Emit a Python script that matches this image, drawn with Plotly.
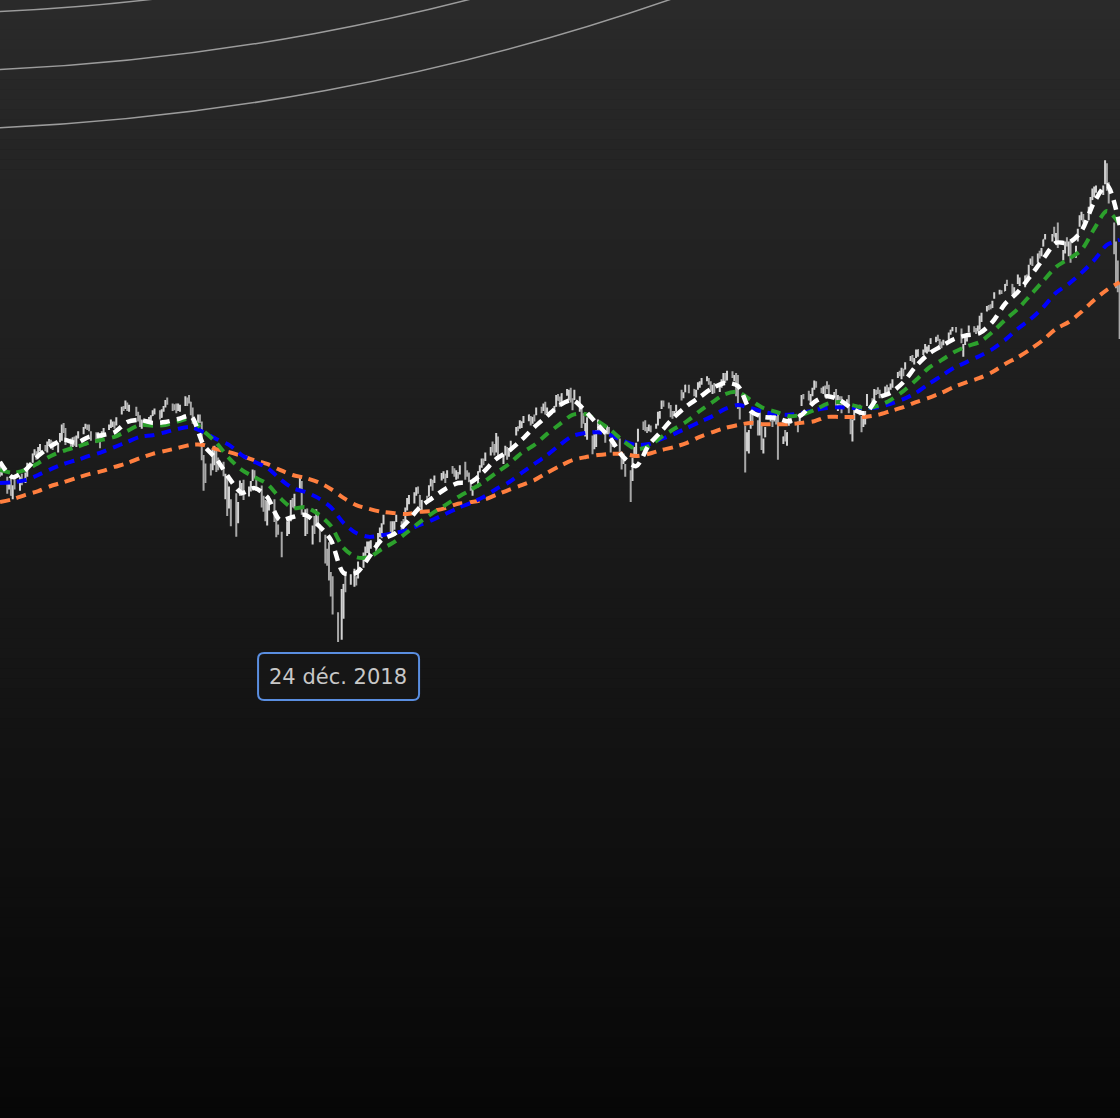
import pandas as pd
import plotly.graph_objects as go

# ---------------- data ----------------
HOLIDAYS = ["2018-07-04", "2018-09-03", "2018-11-22", "2018-12-05", "2018-12-25",
            "2019-01-01", "2019-01-21", "2019-02-18", "2019-04-19", "2019-05-27",
            "2019-07-04", "2019-09-02", "2019-11-28", "2019-12-25", "2020-01-01",
            "2020-01-20", "2020-02-17"]
FIRST_DAY = "2018-06-21"
LAST_DAY = "2020-02-27"

OPEN = [
 2770,2755,2740,2722,2730,2700,2725,
 2720,2745,2738,2752,2780,2800,2795,2795,2812,2815,2808,2824,2828,2818,2810,2830,2835,2858,2855,2830,2818,
 2832,2818,2840,2850,2862,2864,2862,2850,2842,2830,2838,2835,2846,2860,2865,2866,2868,2868,2895,2908,2908,2916,2902,
 2905,2896,2886,2865,2872,2868,2884,2890,2900,2898,2886,2902,2912,2926,2915,2912,2908,2905,2904,
 2920,2924,2930,2920,2902,2880,2882,2872,2776,2770,2764,2765,2808,2800,2778,2775,2722,2738,2676,2668,2682,2640,2706,
 2712,2728,2705,2715,2745,2756,2740,2720,2682,2680,2650,2675,2688,2630,2615,2605,2610,2625,2650,2685,2682,
 2725,2730,2630,2658,2612,2640,2635,2645,2622,2590,2560,2555,2505,2482,2420,2370,2455,2492,2500,
 2490,2505,2510,2542,2565,2575,2570,2585,2580,2585,2608,2605,2640,2632,2625,2630,2645,2632,2632,2640,2670,
 2692,2690,2705,2716,2700,2675,2692,2700,2726,2728,2735,2742,2748,2750,2745,2765,2755,2748,2752,
 2758,2775,2756,2752,2732,2705,2722,2760,2770,2780,2785,2800,2815,2810,2805,2835,2785,2800,2808,2798,2815,
 2845,2860,2864,2866,2876,2884,2886,2875,2888,2895,2904,2906,2912,2902,2900,2912,2935,2928,2925,2942,2938,
 2948,2922,2928,2902,2912,2880,2865,2862,2835,2815,2818,2852,2858,2842,2850,2852,2835,2825,2828,2785,2785,2765,
 2750,2740,2800,2808,2830,2865,2872,2858,2858,2860,2862,2870,2890,2912,2915,2914,2912,2895,2892,2902,
 2940,2936,2946,2958,2950,2938,2955,2962,2965,2976,2975,2966,2945,2962,2950,2960,2966,2985,2975,2990,2975,2982,
 2952,2905,2860,2830,2830,2862,2888,2872,2848,2865,2818,2840,2880,2882,2880,2892,2880,2830,2852,2825,2868,2892,
 2870,2875,2915,2935,2940,2928,2940,2960,2962,2948,2948,2955,2960,2958,2935,2948,2915,2932,2928,2915,
 2930,2888,2855,2880,2902,2885,2868,2875,2915,2922,2928,2945,2950,2946,2945,2958,2944,2958,2958,2980,2988,2985,2998,
 3000,3025,3026,3020,3030,3035,3038,3042,3040,3048,3062,3070,3075,3068,3058,3060,3070,3084,3092,3094,
 3092,3040,3060,3074,3088,3095,3090,3092,3098,3122,3138,3145,3146,3145,3170,3180,3182,3184,3204,3198,3178,
 3205,3200,3195,3218,3215,3250,3262,3252,3268,3268,3290,3310,3308,3320,3310,3325,3260,3278,3300,3280,3298,
 3265,3305,3345,3358,3360,3352,3390,3400,3412,3422,3420,3440,3455,3435,3320,3292,3210,3150,
]
HIGH = [
 2775,2765,2745,2735,2748,2725,2745,
 2745,2752,2755,2778,2800,2810,2805,2815,2822,2820,2828,2834,2832,2828,2825,2848,2868,2872,2860,2835,2838,
 2840,2842,2852,2862,2870,2868,2868,2852,2850,2850,2840,2852,2860,2868,2880,2875,2875,2885,2910,2912,2925,2920,2915,
 2910,2898,2890,2880,2880,2886,2890,2902,2906,2902,2904,2912,2926,2932,2918,2916,2918,2918,2915,
 2935,2932,2938,2922,2908,2892,2892,2875,2796,2776,2776,2812,2818,2806,2790,2780,2752,2745,2722,2692,2706,2685,2736,
 2730,2738,2722,2735,2762,2760,2745,2724,2700,2690,2688,2698,2692,2648,2632,2615,2640,2648,2690,2695,2705,
 2745,2735,2668,2670,2630,2652,2668,2660,2632,2608,2575,2590,2520,2510,2425,2480,2492,2515,2515,
 2528,2510,2545,2566,2580,2592,2592,2595,2590,2612,2625,2635,2655,2640,2640,2640,2655,2640,2645,2672,2695,
 2702,2708,2720,2722,2702,2690,2700,2725,2740,2738,2748,2754,2758,2752,2760,2770,2765,2760,2756,
 2772,2780,2760,2755,2735,2722,2758,2772,2788,2788,2802,2815,2828,2822,2848,2840,2798,2818,2815,2812,2830,
 2862,2864,2878,2876,2888,2892,2888,2886,2892,2908,2910,2918,2922,2908,2912,2938,2940,2934,2942,2952,2950,
 2955,2930,2950,2935,2915,2895,2872,2885,2842,2845,2855,2880,2875,2850,2865,2862,2836,2835,2835,2792,2800,2775,
 2760,2790,2815,2825,2858,2875,2878,2862,2868,2866,2870,2898,2900,2925,2925,2920,2914,2900,2900,2915,
 2950,2944,2962,2962,2952,2950,2968,2970,2978,2982,2978,2970,2962,2966,2960,2975,2990,2990,2995,2994,2985,2990,
 2985,2910,2865,2850,2855,2900,2895,2878,2902,2868,2835,2862,2892,2885,2892,2900,2895,2840,2855,2850,2888,2895,
 2875,2895,2938,2940,2948,2940,2955,2972,2970,2955,2958,2960,2970,2962,2945,2952,2938,2935,2935,2928,
 2938,2890,2880,2912,2915,2888,2882,2900,2940,2930,2952,2950,2956,2950,2958,2962,2956,2965,2975,2992,2995,3002,3000,
 3015,3030,3032,3025,3045,3045,3045,3058,3052,3056,3072,3075,3080,3070,3064,3068,3085,3092,3098,3098,
 3095,3058,3075,3080,3102,3100,3096,3102,3125,3132,3148,3150,3152,3160,3180,3186,3185,3200,3210,3200,3192,
 3222,3215,3220,3222,3245,3260,3265,3272,3278,3285,3305,3318,3318,3335,3320,3345,3280,3300,3310,3300,3305,
 3290,3330,3362,3370,3365,3382,3405,3425,3430,3432,3432,3492,3485,3440,3345,3300,3255,3200,
]
LOW = [
 2745,2748,2705,2715,2700,2692,2715,
 2712,2725,2730,2745,2778,2795,2785,2792,2805,2805,2802,2818,2812,2808,2802,2826,2830,2848,2820,2808,2815,
 2818,2815,2835,2845,2858,2855,2852,2830,2825,2828,2812,2832,2840,2855,2860,2862,2858,2866,2892,2900,2905,2900,2898,
 2888,2875,2862,2858,2865,2862,2874,2888,2892,2880,2884,2898,2908,2915,2900,2902,2895,2900,2898,
 2912,2912,2918,2890,2870,2862,2872,2784,2712,2730,2748,2760,2772,2756,2760,2746,2692,2652,2670,2628,2603,2635,2700,
 2700,2690,2698,2710,2735,2740,2712,2672,2662,2640,2630,2665,2638,2602,2608,2555,2605,2610,2640,2672,2670,
 2712,2655,2605,2610,2585,2610,2628,2630,2590,2540,2535,2500,2462,2420,2355,2360,2410,2472,2490,
 2485,2488,2505,2530,2550,2565,2562,2575,2568,2582,2602,2600,2632,2605,2610,2620,2638,2615,2622,2635,2665,
 2680,2682,2700,2705,2672,2665,2682,2698,2722,2712,2730,2736,2740,2730,2742,2752,2745,2738,2740,
 2750,2738,2745,2732,2712,2700,2720,2755,2766,2772,2782,2795,2802,2795,2802,2785,2775,2795,2785,2792,2810,
 2842,2852,2858,2860,2872,2876,2866,2870,2875,2890,2895,2900,2892,2895,2896,2910,2924,2910,2915,2936,2925,
 2920,2902,2926,2898,2860,2870,2840,2832,2798,2810,2815,2850,2850,2825,2845,2845,2802,2815,2795,2762,2775,2745,
 2685,2735,2790,2798,2828,2855,2852,2848,2852,2850,2858,2866,2882,2905,2910,2906,2885,2882,2888,2898,
 2925,2930,2944,2942,2935,2932,2950,2955,2962,2970,2962,2948,2940,2942,2945,2955,2965,2966,2972,2978,2970,2935,
 2905,2880,2755,2805,2800,2858,2865,2842,2842,2808,2800,2838,2875,2862,2875,2868,2785,2822,2828,2818,2865,2870,
 2850,2872,2912,2928,2925,2918,2935,2950,2955,2942,2940,2932,2952,2935,2930,2905,2900,2912,2895,2912,
 2895,2845,2828,2878,2890,2850,2862,2868,2912,2915,2926,2938,2940,2930,2942,2945,2940,2950,2955,2978,2982,2975,2982,
 2998,3018,3015,3010,3025,3028,3032,3038,3036,3040,3058,3062,3065,3050,3048,3055,3068,3080,3088,3085,
 3060,3028,3056,3064,3085,3086,3082,3088,3092,3110,3135,3138,3140,3143,3165,3175,3176,3183,3195,3175,3172,
 3200,3195,3192,3208,3212,3245,3242,3250,3260,3265,3288,3305,3300,3312,3295,3285,3255,3272,3288,3265,3250,
 3262,3300,3335,3350,3345,3350,3382,3398,3405,3415,3410,3435,3420,3390,3270,3190,3180,3070,
]
CLOSE = [
 2750,2756,2718,2724,2702,2718,2720,
 2740,2730,2752,2775,2798,2806,2790,2812,2816,2813,2824,2830,2818,2816,2821,2835,2862,2853,2832,2815,2830,
 2825,2840,2850,2860,2865,2862,2858,2840,2828,2846,2826,2848,2857,2864,2870,2869,2864,2882,2905,2906,2920,2908,2908,
 2898,2885,2870,2866,2874,2884,2886,2898,2900,2884,2900,2906,2922,2920,2910,2908,2898,2908,2910,
 2924,2922,2926,2902,2886,2884,2880,2786,2728,2767,2750,2809,2809,2769,2768,2756,2740,2656,2706,2659,2641,2682,2712,
 2722,2705,2718,2730,2758,2748,2725,2676,2672,2656,2684,2690,2644,2605,2612,2598,2635,2640,2688,2680,2700,
 2738,2660,2662,2615,2622,2622,2640,2638,2595,2550,2550,2512,2478,2432,2362,2472,2490,2488,2508,
 2515,2495,2540,2552,2572,2580,2590,2590,2582,2606,2612,2628,2645,2618,2630,2634,2648,2630,2628,2668,2690,
 2692,2705,2716,2710,2686,2688,2690,2722,2730,2725,2745,2748,2752,2740,2756,2758,2754,2753,2745,
 2768,2755,2752,2736,2720,2718,2756,2764,2782,2780,2798,2810,2808,2806,2842,2788,2790,2806,2796,2806,2826,
 2860,2858,2866,2872,2886,2890,2872,2884,2882,2904,2902,2906,2898,2905,2910,2935,2926,2924,2940,2944,2946,
 2924,2916,2946,2932,2882,2878,2868,2878,2808,2832,2848,2872,2856,2838,2860,2852,2818,2822,2798,2780,2785,2748,
 2722,2788,2808,2822,2850,2862,2860,2855,2864,2860,2862,2888,2896,2918,2914,2910,2888,2886,2896,2912,
 2935,2942,2960,2955,2945,2948,2958,2964,2975,2976,2966,2950,2958,2944,2955,2972,2986,2970,2992,2986,2980,2948,
 2915,2895,2810,2845,2850,2898,2880,2850,2888,2812,2822,2858,2885,2865,2888,2885,2810,2838,2832,2848,2882,2885,
 2862,2892,2932,2934,2935,2936,2952,2960,2958,2948,2956,2955,2954,2940,2940,2912,2932,2925,2910,2924,
 2898,2852,2875,2908,2895,2852,2876,2896,2925,2922,2948,2942,2948,2938,2955,2946,2954,2960,2972,2988,2986,2998,2990,
 3012,3025,3020,3022,3038,3044,3040,3046,3048,3054,3070,3072,3070,3060,3056,3064,3082,3090,3096,3088,
 3066,3052,3070,3076,3098,3090,3088,3098,3120,3122,3142,3144,3142,3158,3174,3180,3180,3198,3198,3180,3190,
 3220,3205,3218,3212,3235,3256,3248,3270,3266,3278,3304,3315,3310,3312,3316,3292,3272,3296,3294,3298,3256,
 3280,3325,3355,3366,3356,3380,3390,3422,3420,3428,3425,3462,3445,3405,3285,3200,3190,3075,
]

# moving averages, one value per week (Thursdays) starting on MA_START
MA_START = "2018-06-21"
MA_WHITE = [2780,2744,2761,2794,2817,2832,2825,2839,2843,2850,2874,2879,2872,2874,2881,2888,2820,2787,
            2742,2707,2718,2697,2643,2650,2655,2631,2596,2518,2518,2555,2596,2610,2638,2673,2695,2716,
            2730,2732,2756,2787,2806,2832,2862,2888,2914,2926,2900,2867,2834,2791,2770,2820,2853,2886,
            2912,2933,2954,2966,2959,2900,2886,2884,2876,2891,2921,2935,2926,2905,2895,2931,2943,2968,
            3006,3035,3053,3070,3079,3084,3110,3153,3181,3219,3259,3297,3297,3325,3393,3433,3339]
MA_GREEN = [2761,2754,2761,2777,2794,2806,2815,2825,2832,2839,2853,2867,2865,2867,2876,2881,2853,2825,
            2789,2761,2744,2728,2695,2671,2673,2657,2629,2577,2555,2555,2574,2591,2614,2638,2659,2678,
            2697,2714,2732,2754,2775,2801,2820,2846,2869,2891,2893,2876,2855,2829,2810,2817,2839,2858,
            2876,2900,2921,2940,2945,2926,2907,2898,2888,2891,2902,2917,2921,2914,2907,2912,2926,2947,
            2973,3002,3020,3039,3053,3063,3086,3115,3141,3174,3207,3240,3259,3280,3330,3372,3341]
MA_BLUE = [2730,2732,2737,2749,2763,2775,2784,2794,2803,2815,2827,2839,2843,2850,2858,2862,2850,2834,
           2820,2796,2780,2766,2740,2718,2709,2695,2673,2636,2612,2603,2607,2612,2619,2631,2643,2657,
           2671,2683,2697,2716,2732,2754,2775,2796,2820,2841,2848,2850,2843,2829,2820,2822,2834,2846,
           2860,2874,2888,2905,2914,2907,2898,2893,2891,2895,2902,2907,2909,2907,2907,2909,2917,2928,
           2943,2964,2983,3002,3016,3030,3046,3068,3094,3117,3145,3179,3200,3226,3256,3292,3304]
MA_ORANGE = [2685,2692,2702,2711,2723,2732,2742,2751,2758,2768,2777,2789,2799,2806,2813,2820,2820,2810,
             2803,2794,2784,2775,2761,2749,2742,2732,2716,2695,2678,2669,2662,2659,2657,2662,2664,2671,
             2681,2685,2690,2702,2714,2725,2737,2754,2770,2784,2791,2796,2799,2799,2794,2799,2808,2815,
             2825,2839,2850,2860,2867,2872,2869,2869,2869,2872,2876,2886,2886,2886,2886,2891,2900,2909,
             2921,2931,2943,2957,2968,2978,2992,3011,3027,3046,3068,3094,3110,3134,3162,3186,3204]

ANNOT_TEXT = "24 déc. 2018"

# ---------------- figure ----------------
W, H = 1120, 1118
dates = pd.bdate_range(FIRST_DAY, LAST_DAY)
dates = dates[~dates.isin(pd.to_datetime(HOLIDAYS))]
n = min(len(dates), len(OPEN), len(HIGH), len(LOW), len(CLOSE))
dates = dates[:n]

fig = go.Figure()
fig.add_trace(go.Ohlc(
    x=dates, open=OPEN[:n], high=HIGH[:n], low=LOW[:n], close=CLOSE[:n],
    increasing=dict(line=dict(color="#d2d2d2", width=2)),
    decreasing=dict(line=dict(color="#a8a8a8", width=2)),
    tickwidth=0.45, hoverinfo="skip", showlegend=False,
))

def ma_trace(vals, color, width):
    x = pd.date_range(MA_START, periods=len(vals), freq="7D")
    return go.Scatter(x=x, y=vals, mode="lines", hoverinfo="skip", showlegend=False,
                      line=dict(color=color, width=width, dash="10px,7px",
                                shape="spline", smoothing=0.8))

fig.add_trace(ma_trace(MA_ORANGE, "#ff7f3f", 4))
fig.add_trace(ma_trace(MA_BLUE, "#0000ff", 4))
fig.add_trace(ma_trace(MA_GREEN, "#2ca02c", 4))
fig.add_trace(ma_trace(MA_WHITE, "#ffffff", 4.5))

shapes = []
# vertical background gradient
NB = 112
top, bot = 42, 7
for i in range(NB):
    v = round(top + (bot - top) * (i + 0.5) / NB)
    shapes.append(dict(type="rect", xref="paper", yref="paper", x0=0, x1=1,
                       y0=1 - (i + 1) / NB, y1=1 - i / NB + 0.0005,
                       fillcolor=f"rgb({v},{v},{v})", line=dict(width=0), layer="below"))

# decorative concentric arcs (centre far above the page)
cx, cy = -105, -2237
for r in (2251, 2309, 2367):
    shapes.append(dict(type="circle", xref="paper", yref="paper",
                       x0=(cx - r) / W, x1=(cx + r) / W,
                       y0=1 - (cy + r) / H, y1=1 - (cy - r) / H,
                       line=dict(color="#9c9c9c", width=1.5), fillcolor="rgba(0,0,0,0)",
                       layer="below"))

# rounded label box anchored at the lowest low
i_min = min(range(n), key=lambda i: LOW[i])
x_min, y_min = dates[i_min], LOW[i_min]
box = ("M -74,-11 L 75,-11 Q 81,-11 81,-17 L 81,-52 Q 81,-58 75,-58 "
       "L -74,-58 Q -80,-58 -80,-52 L -80,-17 Q -80,-11 -74,-11 Z")
shapes.append(dict(type="path", xref="x", yref="y", xsizemode="pixel", ysizemode="pixel",
                   xanchor=x_min, yanchor=y_min, path=box,
                   line=dict(color="#5a8ee0", width=2), fillcolor="rgba(22,22,22,1)",
                   layer="above"))

fig.update_layout(
    width=W, height=H, margin=dict(l=0, r=0, t=0, b=0),
    paper_bgcolor="#111111", plot_bgcolor="rgba(0,0,0,0)",
    showlegend=False, shapes=shapes,
    xaxis=dict(visible=False, range=["2018-06-21", "2020-02-27 05:00"],
               rangeslider=dict(visible=False), fixedrange=True),
    yaxis=dict(visible=False, range=[1231.5, 3870], fixedrange=True),
    annotations=[dict(x=x_min, y=y_min, xref="x", yref="y", text=ANNOT_TEXT,
                      showarrow=False, yshift=-35, xanchor="center", yanchor="middle",
                      font=dict(family="DejaVu Sans", size=21, color="#c8c8c8"))],
)

fig.write_html("out.html", config={"displayModeBar": False},
               post_script="document.body.style.margin='0';document.body.style.overflow='hidden';")
